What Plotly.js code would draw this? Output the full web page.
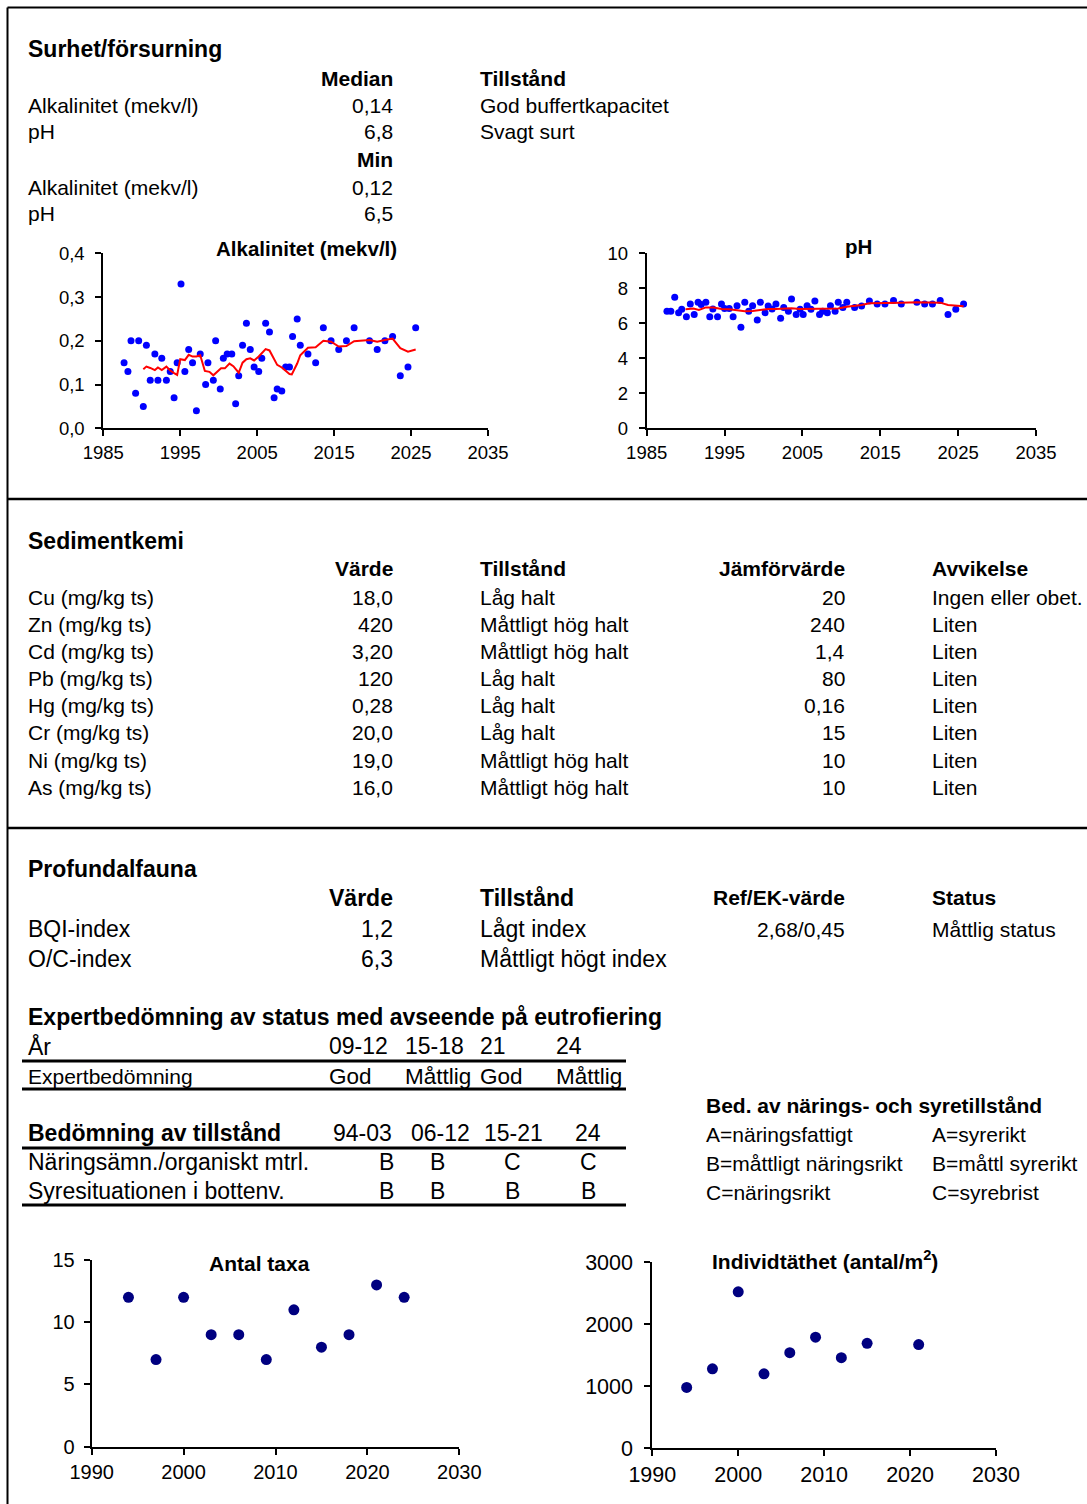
<!DOCTYPE html>
<html>
<head>
<meta charset="utf-8">
<script src="https://cdn.plot.ly/plotly-3.0.1.min.js"></script>
<style>html,body{margin:0;padding:0;background:#fff;}#chart{width:1087px;height:1504px;}</style>
</head>
<body>
<div id="chart"></div>
<script>
// ---------------- DATA ----------------
const alkYears = [1987.7,1988.2,1988.6,1989.2,1989.6,1990.2,1990.6,1991.1,1991.7,1992.1,1992.6,1993.2,1993.7,1994.2,1994.6,1995.1,1995.6,1996.1,1996.6,1997.1,1997.6,1998.3,1998.6,1999.3,1999.6,2000.2,2000.6,2001.1,2001.7,2002.2,2002.6,2003.1,2003.6,2004.1,2004.6,2005.2,2005.6,2006.1,2006.6,2007.2,2007.6,2008.2,2008.7,2009.2,2009.6,2010.2,2010.6,2011.6,2012.6,2013.6,2014.6,2015.6,2016.6,2017.6,2019.6,2020.6,2021.6,2022.6,2023.6,2024.6,2025.6];
const alkValues = [0.15,0.13,0.20,0.08,0.20,0.05,0.19,0.11,0.17,0.11,0.16,0.11,0.13,0.07,0.15,0.33,0.13,0.18,0.15,0.04,0.17,0.10,0.15,0.11,0.20,0.09,0.16,0.17,0.17,0.056,0.12,0.19,0.24,0.18,0.14,0.13,0.16,0.24,0.22,0.07,0.09,0.085,0.14,0.14,0.21,0.25,0.19,0.17,0.15,0.23,0.20,0.18,0.20,0.23,0.20,0.18,0.20,0.21,0.12,0.14,0.23];
const alkTrendYears = [1990.2,1990.6,1991.1,1991.7,1992.1,1992.6,1993.2,1993.7,1994.2,1994.6,1995.0,1995.6,1996.1,1996.6,1997.1,1997.6,1998.2,1998.8,1999.3,1999.8,2000.3,2000.8,2001.4,2001.9,2002.6,2003.1,2003.6,2004.1,2004.6,2005.2,2005.6,2006.1,2006.6,2007.2,2007.6,2008.2,2008.7,2009.2,2009.5,2010.2,2010.6,2011.6,2012.6,2013.6,2014.6,2015.6,2016.6,2017.6,2019.6,2020.6,2021.6,2022.6,2023.6,2024.6,2025.6];
const alkTrend = [0.135,0.141,0.138,0.133,0.139,0.133,0.141,0.132,0.126,0.122,0.158,0.156,0.168,0.164,0.164,0.167,0.131,0.129,0.121,0.129,0.137,0.137,0.148,0.142,0.127,0.150,0.158,0.160,0.155,0.164,0.172,0.181,0.178,0.156,0.145,0.139,0.132,0.124,0.123,0.148,0.167,0.184,0.185,0.200,0.198,0.187,0.188,0.199,0.202,0.198,0.202,0.205,0.183,0.175,0.180];

const phYears = [1987.6,1988.1,1988.6,1989.1,1989.5,1990.1,1990.6,1991.1,1991.6,1992.0,1992.6,1993.1,1993.5,1994.1,1994.6,1995.0,1995.6,1996.1,1996.6,1997.1,1997.6,1998.1,1998.6,1999.2,1999.6,2000.2,2000.6,2001.1,2001.6,2002.2,2002.6,2003.2,2003.6,2004.2,2004.7,2005.1,2005.6,2006.1,2006.6,2007.2,2007.6,2008.2,2008.6,2009.2,2009.6,2010.2,2010.7,2011.7,2012.6,2013.6,2014.6,2015.6,2016.7,2017.7,2019.7,2020.7,2021.7,2022.7,2023.7,2024.7,2025.7];
const phValues = [6.69,6.69,7.49,6.61,6.80,6.38,7.10,6.50,7.20,7.07,7.20,6.38,6.82,6.38,7.10,6.84,6.84,6.38,7.01,5.77,7.20,6.69,7.01,6.19,7.20,6.61,6.99,6.82,7.10,6.29,6.90,6.69,7.39,6.50,6.80,6.50,7.01,6.80,7.28,6.50,6.69,6.61,7.01,6.69,7.20,6.90,7.20,6.90,6.99,7.28,7.10,7.10,7.30,7.10,7.20,7.10,7.10,7.30,6.50,6.80,7.10];
const phTrendYears = [1990.0,1991.0,1991.7,1992.6,1993.6,1994.6,1995.6,1996.6,1997.6,1998.6,1999.6,2000.6,2001.6,2002.6,2003.6,2004.7,2005.6,2006.6,2007.6,2008.6,2009.6,2010.7,2011.7,2012.6,2013.6,2014.6,2015.6,2016.7,2017.7,2019.7,2020.7,2021.7,2022.7,2023.7,2024.7,2025.7];
const phTrend = [6.80,6.84,6.76,6.91,6.90,6.82,6.80,6.76,6.69,6.70,6.76,6.82,6.82,6.84,6.86,6.82,6.82,6.84,6.80,6.82,6.84,6.95,6.99,7.05,7.14,7.14,7.16,7.18,7.18,7.20,7.18,7.18,7.18,7.05,6.99,6.97];

const taxaYears = [1994,1997,2000,2003,2006,2009,2012,2015,2018,2021,2024];
const taxaValues = [12,7,12,9,9,7,11,8,9,13,12];
const densYears = [1994,1997,2000,2003,2006,2009,2012,2015,2021];
const densValues = [980,1280,2520,1200,1540,1790,1460,1690,1670];

// Tables
const acidParams = ['Alkalinitet (mekv/l)','pH'];
const acidMedian = ['0,14','6,8'];
const acidStatus = ['God buffertkapacitet','Svagt surt'];
const acidMin = ['0,12','6,5'];

const sedParams = ['Cu (mg/kg ts)','Zn (mg/kg ts)','Cd (mg/kg ts)','Pb (mg/kg ts)','Hg (mg/kg ts)','Cr (mg/kg ts)','Ni (mg/kg ts)','As (mg/kg ts)'];
const sedValues = ['18,0','420','3,20','120','0,28','20,0','19,0','16,0'];
const sedStatus = ['Låg halt','Måttligt hög halt','Måttligt hög halt','Låg halt','Låg halt','Låg halt','Måttligt hög halt','Måttligt hög halt'];
const sedRef = ['20','240','1,4','80','0,16','15','10','10'];
const sedDev = ['Ingen eller obet.','Liten','Liten','Liten','Liten','Liten','Liten','Liten'];

const faunaParams = ['BQI-index','O/C-index'];
const faunaValues = ['1,2','6,3'];
const faunaStatus = ['Lågt index','Måttligt högt index'];
const faunaRef = ['2,68/0,45',''];
const faunaClass = ['Måttlig status',''];

const expertYears = ['09-12','15-18','21','24'];
const expertGrades = ['God','Måttlig','God','Måttlig'];
const stateYears = ['94-03','06-12','15-21','24'];
const stateNutr = ['B','B','C','C'];
const stateOxy = ['B','B','B','B'];
const legendNutr = ['A=näringsfattigt','B=måttligt näringsrikt','C=näringsrikt'];
const legendOxy = ['A=syrerikt','B=måttl syrerikt','C=syrebrist'];

// ---------------- LAYOUT HELPERS ----------------
const W = 1087, H = 1504;
const F = 'Liberation Sans, Arial, sans-serif';
const X = p => p / W;
const Y = p => 1 - p / H;
const ann = [];
function t(x, y, text, size, anchor, bold) {
  ann.push({xref:'paper', yref:'paper', x:X(x), y:Y(y), text: bold ? '<b>'+text+'</b>' : text,
    showarrow:false, xanchor:anchor || 'left', yanchor:'middle', borderpad:0,
    font:{family:F, size:size, color:'#000'}});
}
const shapes = [];
function line(x0, y0, x1, y1, w) {
  shapes.push({type:'line', xref:'paper', yref:'paper', x0:X(x0), y0:Y(y0), x1:X(x1), y1:Y(y1),
    line:{color:'#000', width:w}});
}

// Borders
line(7.5, 7.5, 7.5, 1504, 2);
line(7.5, 7.5, 1087, 7.5, 2);
line(7.5, 499, 1087, 499, 2.5);
line(7.5, 828, 1087, 828, 2.5);

// Section 1
t(27, 49, 'Surhet/försurning', 23, 'left', true);
t(394, 78, 'Median', 21, 'right', true);
t(479, 78, 'Tillstånd', 21, 'left', true);
[105, 132].forEach((y, i) => { t(27, y, acidParams[i], 21); t(394, y, acidMedian[i], 21, 'right'); t(479, y, acidStatus[i], 21); });
t(394, 159, 'Min', 21, 'right', true);
[187, 214].forEach((y, i) => { t(27, y, acidParams[i], 21); t(394, y, acidMin[i], 21, 'right'); });

// Section 2
t(27, 541, 'Sedimentkemi', 23, 'left', true);
t(394, 569, 'Värde', 21, 'right', true);
t(479, 569, 'Tillstånd', 21, 'left', true);
t(846, 569, 'Jämförvärde', 21, 'right', true);
t(931, 569, 'Avvikelse', 21, 'left', true);
const sedRowsY = [597, 624, 651, 678, 705, 733, 760, 787];
sedRowsY.forEach((y, i) => {
  t(27, y, sedParams[i], 21); t(394, y, sedValues[i], 21, 'right'); t(479, y, sedStatus[i], 21);
  t(846, y, sedRef[i], 21, 'right'); t(931, y, sedDev[i], 21);
});

// Section 3
t(27, 869, 'Profundalfauna', 23, 'left', true);
t(394, 898, 'Värde', 23, 'right', true);
t(479, 898, 'Tillstånd', 23, 'left', true);
t(846, 898, 'Ref/EK-värde', 21, 'right', true);
t(931, 898, 'Status', 21, 'left', true);
[929, 959].forEach((y, i) => {
  t(27, y, faunaParams[i], 23); t(394, y, faunaValues[i], 23, 'right'); t(479, y, faunaStatus[i], 23);
  if (faunaRef[i]) t(846, y, faunaRef[i], 21, 'right');
  if (faunaClass[i]) t(931, y, faunaClass[i], 21);
});

t(27, 1017, 'Expertbedömning av status med avseende på eutrofiering', 23, 'left', true);
t(27, 1046, 'År', 23);
const expX = [328, 404, 479, 555];
expertYears.forEach((s, i) => t(expX[i], 1046, s, 23));
line(22, 1061, 626, 1061, 3);
t(27, 1076, 'Expertbedömning', 21);
expertGrades.forEach((s, i) => t(expX[i], 1076, s, 22.5));
line(22, 1089, 626, 1089, 3);

t(27, 1133, 'Bedömning av tillstånd', 23, 'left', true);
const stX = [362, 440, 513, 588];
stateYears.forEach((s, i) => t(stX[i], 1133, s, 23, 'center'));
line(22, 1148, 626, 1148, 3);
const stValX = [386, 437, 512, 588];
t(27, 1162, 'Näringsämn./organiskt mtrl.', 23);
stateNutr.forEach((s, i) => t(stValX[i], 1162, s, 23, 'center'));
t(27, 1191, 'Syresituationen i bottenv.', 23);
stateOxy.forEach((s, i) => t(stValX[i], 1191, s, 23, 'center'));
line(22, 1205, 626, 1205, 3);

t(705, 1105, 'Bed. av närings- och syretillstånd', 21, 'left', true);
[1134, 1163, 1192].forEach((y, i) => { t(705, y, legendNutr[i], 21); t(931, y, legendOxy[i], 21); });

// Chart titles
t(306, 249, 'Alkalinitet (mekv/l)', 20.5, 'center', true);
t(858, 246, 'pH', 20.5, 'center', true);
t(259, 1263, 'Antal taxa', 21, 'center', true);
t(825, 1260, 'Individtäthet (antal/m<sup>2</sup>)', 21, 'center', true);

// ---------------- AXES ----------------
function ax(extra) {
  return Object.assign({showgrid:false, zeroline:false, showline:true, linecolor:'#000', linewidth:2,
    ticks:'outside', ticklen:6, tickwidth:2, tickcolor:'#000', fixedrange:true,
    tickfont:{family:F, size:18.5, color:'#000'}}, extra);
}

const layout = {
  width: W, height: H, margin:{l:0, r:0, t:0, b:0}, paper_bgcolor:'#fff', plot_bgcolor:'rgba(0,0,0,0)',
  showlegend:false, separators:',.', font:{family:F, color:'#000'},
  annotations: ann, shapes: shapes,
  xaxis: ax({domain:[X(103.3), X(488)], range:[1985, 2035], dtick:10, tick0:1985, anchor:'y'}),
  yaxis: ax({domain:[Y(428.3), Y(253.3)], range:[0, 0.4], dtick:0.1, tickformat:'.1f', anchor:'x', ticklabelstandoff:7}),
  xaxis2: ax({domain:[X(646.7), X(1036)], range:[1985, 2035], dtick:10, tick0:1985, anchor:'y2'}),
  yaxis2: ax({domain:[Y(428.3), Y(253.3)], range:[0, 10], dtick:2, anchor:'x2', ticklabelstandoff:7}),
  xaxis3: ax({domain:[X(91.7), X(459.3)], range:[1990, 2030], dtick:10, tick0:1990, anchor:'y3', tickfont:{family:F, size:20, color:'#000'}}),
  yaxis3: ax({domain:[Y(1446.7), Y(1260)], range:[0, 15], dtick:5, anchor:'x3', ticklabelstandoff:5, tickfont:{family:F, size:20, color:'#000'}}),
  xaxis4: ax({domain:[X(652.3), X(996)], range:[1990, 2030], dtick:10, tick0:1990, anchor:'y4', tickfont:{family:F, size:21.5, color:'#000'}}),
  yaxis4: ax({domain:[Y(1448.3), Y(1262)], range:[0, 3000], dtick:1000, tickformat:'d', anchor:'x4', ticklabelstandoff:7, tickfont:{family:F, size:21.5, color:'#000'}})
};

const data = [
  {x:alkYears, y:alkValues, xaxis:'x', yaxis:'y', type:'scatter', mode:'markers', marker:{color:'#0000FF', size:7}, cliponaxis:false},
  {x:alkTrendYears, y:alkTrend, xaxis:'x', yaxis:'y', type:'scatter', mode:'lines', line:{color:'#FF0000', width:2}},
  {x:phYears, y:phValues, xaxis:'x2', yaxis:'y2', type:'scatter', mode:'markers', marker:{color:'#0000FF', size:7}, cliponaxis:false},
  {x:phTrendYears, y:phTrend, xaxis:'x2', yaxis:'y2', type:'scatter', mode:'lines', line:{color:'#FF0000', width:2}},
  {x:taxaYears, y:taxaValues, xaxis:'x3', yaxis:'y3', type:'scatter', mode:'markers', marker:{color:'#000080', size:11}, cliponaxis:false},
  {x:densYears, y:densValues, xaxis:'x4', yaxis:'y4', type:'scatter', mode:'markers', marker:{color:'#000080', size:11}, cliponaxis:false}
];

Plotly.newPlot('chart', data, layout, {staticPlot:true, displayModeBar:false});
</script>
</body>
</html>
